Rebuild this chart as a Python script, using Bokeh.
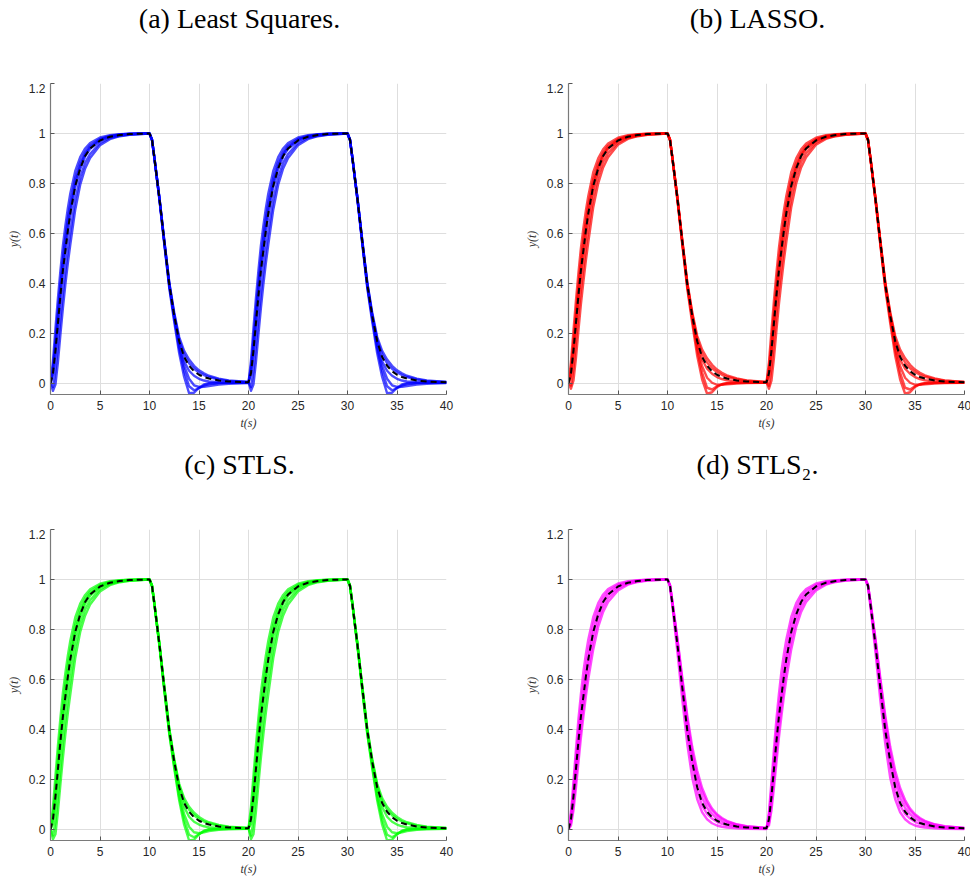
from bokeh.plotting import figure
from bokeh.layouts import column, row
from bokeh.models import Range1d, FixedTicker, Label
from bokeh.embed import file_html
from bokeh.resources import INLINE

# time grid of one cycle (s); the second cycle (20-40 s) repeats it
T = [0, 0.25, 0.5, 0.75, 1.0, 1.25, 1.5, 1.75, 2.0, 2.5, 3.0, 3.5, 4.0, 5.0, 6.0, 7.0, 8.0,
     10.0, 10.25, 10.5, 11.0, 11.5, 12.0, 12.5, 13.0, 13.5, 14.0, 14.5, 15.0, 15.5, 16.0, 17.0, 18.0, 20.0]

# true response (dashed black)
y_true = [0, 0.04, 0.13, 0.24, 0.35, 0.45, 0.53, 0.61, 0.68, 0.79, 0.86, 0.91, 0.94, 0.972, 0.987, 0.994, 0.998,
          1.0, 0.975, 0.9, 0.74, 0.565, 0.395, 0.27, 0.168, 0.105, 0.07, 0.048, 0.034, 0.025, 0.019, 0.011, 0.007, 0.004]

# (a) Least Squares
ls_curves = [
    [0, 0.09, 0.22, 0.34, 0.45, 0.55, 0.63, 0.70, 0.76, 0.85, 0.905, 0.94, 0.962, 0.984, 0.993, 0.997, 0.999,
     1.0, 0.974, 0.898, 0.735, 0.555, 0.38, 0.245, 0.12, 0.025, -0.04, -0.038, -0.018, -0.005, 0.0, 0.002, 0.002, 0.002],
    [0, 0.065, 0.175, 0.29, 0.40, 0.50, 0.585, 0.66, 0.72, 0.82, 0.885, 0.925, 0.952, 0.978, 0.99, 0.996, 0.999,
     1.0, 0.975, 0.899, 0.738, 0.56, 0.388, 0.258, 0.138, 0.05, -0.012, -0.028, -0.02, -0.009, -0.003, 0.001, 0.002, 0.003],
    [0, 0.05, 0.15, 0.265, 0.375, 0.475, 0.555, 0.635, 0.70, 0.805, 0.872, 0.918, 0.946, 0.975, 0.988, 0.995, 0.998,
     1.0, 0.975, 0.9, 0.74, 0.563, 0.392, 0.265, 0.15, 0.07, 0.018, -0.008, -0.015, -0.014, -0.011, -0.005, -0.002, 0.001],
    [0, 0.035, 0.12, 0.23, 0.34, 0.44, 0.52, 0.60, 0.67, 0.785, 0.857, 0.908, 0.938, 0.971, 0.986, 0.994, 0.998,
     1.0, 0.975, 0.9, 0.741, 0.565, 0.396, 0.27, 0.16, 0.088, 0.05, 0.03, 0.018, 0.011, 0.007, 0.004, 0.003, 0.003],
    [0, -0.015, 0.05, 0.15, 0.26, 0.36, 0.45, 0.53, 0.605, 0.735, 0.825, 0.882, 0.918, 0.962, 0.982, 0.991, 0.996,
     1.0, 0.976, 0.901, 0.742, 0.568, 0.4, 0.276, 0.175, 0.115, 0.08, 0.058, 0.043, 0.033, 0.025, 0.015, 0.009, 0.005],
    [0, -0.03, -0.005, 0.085, 0.195, 0.30, 0.395, 0.48, 0.555, 0.695, 0.795, 0.86, 0.902, 0.953, 0.977, 0.989, 0.995,
     1.0, 0.976, 0.902, 0.744, 0.571, 0.404, 0.282, 0.185, 0.13, 0.095, 0.07, 0.052, 0.04, 0.03, 0.018, 0.011, 0.005],
]

# (b) LASSO
lasso_curves = [
    [0, 0.085, 0.21, 0.33, 0.44, 0.54, 0.62, 0.69, 0.75, 0.845, 0.9, 0.937, 0.96, 0.983, 0.993, 0.997, 0.999,
     1.0, 0.974, 0.897, 0.733, 0.553, 0.378, 0.24, 0.11, 0.015, -0.042, -0.036, -0.015, -0.004, 0.0, 0.002, 0.002, 0.002],
    [0, 0.06, 0.165, 0.28, 0.39, 0.49, 0.575, 0.65, 0.715, 0.815, 0.88, 0.922, 0.95, 0.977, 0.99, 0.996, 0.999,
     1.0, 0.975, 0.899, 0.737, 0.559, 0.386, 0.255, 0.132, 0.042, -0.018, -0.025, -0.012, -0.004, 0.0, 0.002, 0.003, 0.003],
    [0, 0.045, 0.14, 0.255, 0.365, 0.465, 0.545, 0.625, 0.695, 0.80, 0.868, 0.915, 0.944, 0.974, 0.988, 0.995, 0.998,
     1.0, 0.975, 0.9, 0.74, 0.563, 0.391, 0.263, 0.148, 0.068, 0.022, 0.002, -0.006, -0.006, -0.004, -0.001, 0.001, 0.002],
    [0, 0.03, 0.115, 0.225, 0.335, 0.435, 0.515, 0.595, 0.665, 0.78, 0.855, 0.906, 0.937, 0.97, 0.986, 0.993, 0.997,
     1.0, 0.975, 0.9, 0.741, 0.565, 0.397, 0.272, 0.165, 0.095, 0.058, 0.038, 0.025, 0.017, 0.012, 0.007, 0.004, 0.003],
    [0, -0.01, 0.06, 0.165, 0.275, 0.375, 0.46, 0.54, 0.615, 0.745, 0.83, 0.886, 0.921, 0.963, 0.982, 0.991, 0.996,
     1.0, 0.976, 0.901, 0.743, 0.569, 0.401, 0.278, 0.178, 0.118, 0.083, 0.06, 0.045, 0.034, 0.026, 0.016, 0.01, 0.005],
    [0, -0.022, 0.01, 0.1, 0.21, 0.315, 0.405, 0.49, 0.565, 0.705, 0.80, 0.864, 0.905, 0.955, 0.978, 0.989, 0.995,
     1.0, 0.976, 0.902, 0.745, 0.572, 0.405, 0.284, 0.19, 0.135, 0.1, 0.074, 0.055, 0.042, 0.032, 0.019, 0.011, 0.005],
]

# (c) STLS
stls_curves = [
    [0, 0.09, 0.215, 0.335, 0.445, 0.545, 0.625, 0.695, 0.755, 0.848, 0.903, 0.938, 0.961, 0.983, 0.993, 0.997, 0.999,
     1.0, 0.974, 0.898, 0.734, 0.555, 0.38, 0.243, 0.115, 0.018, -0.045, -0.042, -0.02, -0.006, 0.0, 0.002, 0.002, 0.002],
    [0, 0.06, 0.17, 0.285, 0.395, 0.495, 0.58, 0.655, 0.718, 0.818, 0.883, 0.924, 0.951, 0.978, 0.99, 0.996, 0.999,
     1.0, 0.975, 0.899, 0.737, 0.558, 0.385, 0.252, 0.128, 0.038, -0.022, -0.032, -0.02, -0.008, -0.002, 0.001, 0.002, 0.003],
    [0, 0.04, 0.135, 0.25, 0.36, 0.46, 0.54, 0.62, 0.69, 0.797, 0.866, 0.914, 0.943, 0.973, 0.988, 0.995, 0.998,
     1.0, 0.975, 0.9, 0.739, 0.562, 0.39, 0.26, 0.142, 0.06, 0.01, -0.012, -0.016, -0.012, -0.007, -0.002, 0.0, 0.002],
    [0, 0.02, 0.1, 0.21, 0.32, 0.42, 0.505, 0.585, 0.655, 0.772, 0.85, 0.902, 0.934, 0.969, 0.985, 0.993, 0.997,
     1.0, 0.975, 0.9, 0.741, 0.565, 0.396, 0.27, 0.162, 0.09, 0.05, 0.03, 0.019, 0.012, 0.008, 0.005, 0.003, 0.003],
    [0, -0.025, 0.03, 0.13, 0.24, 0.345, 0.435, 0.52, 0.595, 0.728, 0.82, 0.88, 0.917, 0.961, 0.981, 0.991, 0.996,
     1.0, 0.976, 0.901, 0.742, 0.568, 0.4, 0.276, 0.175, 0.113, 0.078, 0.056, 0.041, 0.031, 0.024, 0.014, 0.009, 0.005],
    [0, -0.04, -0.02, 0.07, 0.18, 0.285, 0.38, 0.465, 0.54, 0.685, 0.79, 0.856, 0.9, 0.952, 0.977, 0.989, 0.995,
     1.0, 0.976, 0.902, 0.744, 0.571, 0.403, 0.28, 0.182, 0.125, 0.09, 0.066, 0.049, 0.037, 0.028, 0.017, 0.01, 0.005],
]

# (d) STLS2
stls2_curves = [
    [0, 0.07, 0.19, 0.32, 0.44, 0.54, 0.63, 0.70, 0.76, 0.85, 0.905, 0.94, 0.962, 0.984, 0.993, 0.997, 0.999,
     1.0, 0.972, 0.89, 0.71, 0.515, 0.34, 0.205, 0.12, 0.068, 0.04, 0.024, 0.015, 0.01, 0.007, 0.004, 0.002, 0.001],
    [0, 0.055, 0.16, 0.28, 0.39, 0.49, 0.575, 0.65, 0.715, 0.82, 0.885, 0.925, 0.952, 0.978, 0.99, 0.996, 0.999,
     1.0, 0.975, 0.9, 0.735, 0.555, 0.385, 0.255, 0.155, 0.095, 0.062, 0.043, 0.03, 0.022, 0.016, 0.009, 0.006, 0.003],
    [0, 0.04, 0.13, 0.24, 0.35, 0.45, 0.53, 0.61, 0.68, 0.79, 0.86, 0.91, 0.94, 0.972, 0.987, 0.994, 0.998,
     1.0, 0.977, 0.905, 0.75, 0.58, 0.42, 0.29, 0.19, 0.125, 0.085, 0.06, 0.043, 0.032, 0.024, 0.014, 0.008, 0.004],
    [0, 0.025, 0.1, 0.2, 0.305, 0.405, 0.49, 0.57, 0.64, 0.755, 0.835, 0.89, 0.925, 0.964, 0.983, 0.992, 0.997,
     1.0, 0.978, 0.91, 0.76, 0.595, 0.44, 0.31, 0.215, 0.15, 0.105, 0.075, 0.055, 0.041, 0.031, 0.018, 0.011, 0.005],
    [0, 0.015, 0.075, 0.165, 0.265, 0.365, 0.45, 0.53, 0.60, 0.72, 0.81, 0.87, 0.91, 0.956, 0.979, 0.99, 0.996,
     1.0, 0.978, 0.91, 0.765, 0.605, 0.455, 0.33, 0.235, 0.165, 0.117, 0.083, 0.06, 0.045, 0.034, 0.02, 0.012, 0.005],
]

titles = ["(a) Least Squares.", "(b) LASSO.", "(c) STLS.", "(d) STLS\u2082."]
colors = ["#0000ff", "#ff0000", "#00ff00", "#ff00ff"]
x_ticks = [0, 5, 10, 15, 20, 25, 30, 35, 40]
y_ticks = [0, 0.2, 0.4, 0.6, 0.8, 1.0, 1.2]
y_tick_labels = {0: "0", 0.2: "0.2", 0.4: "0.4", 0.6: "0.6", 0.8: "0.8", 1.0: "1", 1.2: "1.2"}


def two_cycles(vals, shift):
    return list(vals) + [v + shift for v in vals[1:]]


def two_cycle_y(vals):
    return list(vals) + list(vals[1:])


t_full = two_cycles(T, 20)

FRAME_W = 396
FRAME_H = 311
LEFT = 50
TOP = 83


def make_title(text, total_width):
    t = figure(width=total_width, height=TOP, x_range=Range1d(0, 1), y_range=Range1d(0, 1),
               x_axis_location=None, y_axis_location=None, output_backend="svg",
               toolbar_location=None, min_border=0)
    t.outline_line_color = None
    t.xgrid.visible = False
    t.ygrid.visible = False
    t.add_layout(Label(x=LEFT + FRAME_W / 2 - 9, y=TOP - 18, x_units="screen", y_units="screen",
                       text=text, text_align="center", text_baseline="middle",
                       text_font="Liberation Serif", text_font_size="28px", text_color="black"))
    return t


def make_panel(curves, color, border_right, border_bottom):
    p = figure(frame_width=FRAME_W, frame_height=FRAME_H,
               x_range=Range1d(0, 40), y_range=Range1d(-0.045, 1.2),
               output_backend="svg", toolbar_location=None,
               min_border_left=LEFT, min_border_right=border_right,
               min_border_top=0, min_border_bottom=border_bottom,
               background_fill_color="white", border_fill_color="white")
    p.outline_line_color = None
    for ax in (p.xaxis, p.yaxis):
        ax.axis_line_color = "#7a7a7a"
        ax.axis_line_width = 1.2
        ax.major_tick_line_color = "#555555"
        ax.major_tick_in = 4
        ax.major_tick_out = 0
        ax.minor_tick_line_color = None
        ax.major_label_text_font = "Liberation Sans"
        ax.major_label_text_font_size = "12px"
        ax.major_label_text_color = "#262626"
        ax.axis_label_text_font = "Liberation Serif"
        ax.axis_label_text_font_style = "italic"
        ax.axis_label_text_font_size = "12px"
        ax.axis_label_text_color = "#333333"
    p.xaxis.ticker = FixedTicker(ticks=x_ticks)
    p.yaxis.ticker = FixedTicker(ticks=y_ticks)
    p.yaxis.major_label_overrides = y_tick_labels
    p.xaxis.axis_label = "t(s)"
    p.yaxis.axis_label = "y(t)"
    p.xaxis.major_label_standoff = 6
    p.yaxis.major_label_standoff = 5
    p.xaxis.axis_label_standoff = 3
    p.yaxis.axis_label_standoff = 5
    p.xgrid.ticker = FixedTicker(ticks=x_ticks)
    p.ygrid.ticker = FixedTicker(ticks=y_ticks)
    for g in (p.xgrid, p.ygrid):
        g.grid_line_color = "#dedede"
        g.grid_line_width = 1

    for c in curves:
        p.line(t_full, two_cycle_y(c), line_color=color, line_alpha=0.7, line_width=2.4,
               line_join="round")
    p.line(t_full, two_cycle_y(y_true), line_color="black", line_width=2, line_dash="6 4")
    return p


t1 = make_title(titles[0], 518)
t2 = make_title(titles[1], 452)
t3 = make_title(titles[2], 518)
t4 = make_title(titles[3], 452)
p1 = make_panel(ls_curves, colors[0], 72, 52)
p2 = make_panel(lasso_curves, colors[1], 7, 52)
p3 = make_panel(stls_curves, colors[2], 72, 42)
p4 = make_panel(stls2_curves, colors[3], 7, 42)

layout = column(row(t1, t2), row(p1, p2), row(t3, t4), row(p3, p4))
open("out.html", "w").write(file_html(layout, INLINE))
